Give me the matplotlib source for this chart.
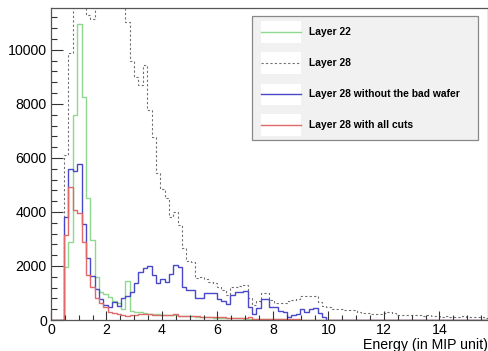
import numpy as np
import matplotlib
matplotlib.use("Agg")
import matplotlib.pyplot as plt
from matplotlib.patches import Rectangle
from matplotlib.ticker import MultipleLocator

plt.rcParams["font.family"] = ["Liberation Sans", "DejaVu Sans"]

# histogram binning: 100 bins between 0 and 15.75 MIP
x_min, x_max, n_bins = 0.0, 15.75, 100
edges = np.linspace(x_min, x_max, n_bins + 1)

# bin contents
layer22 = [
    0, 0, 0, 1950, 2900, 7600, 10950, 8250, 4500, 2960,
    1600, 1050, 950, 850, 720, 620, 420, 1430, 350, 300,
    280, 260, 240, 230, 220, 200, 190, 180, 170, 160,
    150, 140, 130, 120, 110, 100, 95, 90, 85, 80,
    75, 70, 65, 60, 55, 50, 45, 40, 35, 30,
    28, 25, 22, 20, 18, 15, 12, 10, 8, 6,
    5, 4, 3, 2, 1, 0, 0, 0, 0, 0,
    0, 0, 0, 0, 0, 0, 0, 0, 0, 0,
    0, 0, 0, 0, 0, 0, 0, 0, 0, 0,
    0, 0, 0, 0, 0, 0, 0, 0, 0, 0,
]
layer28 = [
    0, 0, 0, 6110, 9900, 12600, 14500, 13800, 11300, 11150,
    12200, 13500, 14000, 13600, 13000, 12500, 12000, 11050, 9570, 9010,
    8700, 9440, 7780, 6790, 5430, 4840, 4510, 3830, 4010, 3520,
    2650, 2200, 2150, 1540, 1600, 1500, 1420, 1360, 1230, 1110,
    925, 1210, 1210, 1250, 1300, 800, 560, 700, 990, 990,
    740, 640, 620, 620, 700, 740, 760, 880, 900, 880,
    900, 680, 500, 490, 420, 400, 390, 370, 380, 360,
    290, 270, 260, 220, 220, 230, 260, 280, 250, 200,
    180, 190, 170, 180, 170, 160, 180, 140, 130, 120,
    140, 110, 120, 100, 130, 120, 110, 100, 110, 90,
]
layer28_good = [
    0, 0, 0, 3800, 5600, 5530, 5760, 3570, 2290, 1620,
    1130, 760, 540, 490, 680, 520, 800, 880, 1020, 1360,
    1790, 1910, 2000, 1670, 1380, 1520, 1400, 1700, 2050, 1950,
    1230, 1100, 1100, 800, 800, 1000, 1000, 1000, 780, 720,
    600, 930, 1020, 1020, 1080, 490, 220, 430, 760, 780,
    480, 480, 330, 300, 120, 200, 220, 420, 300, 420,
    440, 250, 110, 0, 0, 0, 0, 0, 0, 0,
    0, 0, 0, 0, 0, 0, 0, 0, 0, 0,
    0, 0, 0, 0, 0, 0, 0, 0, 0, 0,
    0, 0, 0, 0, 0, 0, 0, 0, 0, 0,
]
layer28_cuts = [
    0, 0, 0, 3150, 4940, 4070, 3970, 2900, 1670, 1230,
    800, 620, 490, 310, 260, 220, 180, 160, 170, 190,
    220, 210, 220, 200, 190, 190, 200, 170, 210, 160,
    150, 140, 130, 130, 120, 120, 110, 110, 100, 100,
    90, 90, 85, 80, 80, 120, 50, 45, 40, 40,
    35, 30, 30, 25, 25, 20, 20, 15, 15, 10,
    10, 8, 5, 5, 0, 0, 0, 0, 0, 0,
    0, 0, 0, 0, 0, 0, 0, 0, 0, 0,
    0, 0, 0, 0, 0, 0, 0, 0, 0, 0,
    0, 0, 0, 0, 0, 0, 0, 0, 0, 0,
]

series = [
    ("Layer 22", layer22, "#8fd88f", "-", 1.0),
    ("Layer 28", layer28, "#707070", (0, (2.0, 2.0)), 0.8),
    ("Layer 28 without the bad wafer", layer28_good, "#4848c8", "-", 1.0),
    ("Layer 28 with all cuts", layer28_cuts, "#e06868", "-", 1.0),
]

fig = plt.figure(figsize=(4.89, 3.51), dpi=100)
ax = fig.add_axes([51 / 489, 31 / 351, 437 / 489, 312 / 351])

for label, counts, color, ls, lw in series:
    ax.stairs(counts, edges, color=color, linestyle=ls, linewidth=lw)

ax.set_xlim(x_min, x_max)
ax.set_ylim(0, 11550)

# ROOT-like ticks: inside, only on left and bottom
ax.xaxis.set_major_locator(MultipleLocator(2))
ax.xaxis.set_minor_locator(MultipleLocator(0.5))
ax.yaxis.set_major_locator(MultipleLocator(2000))
ax.yaxis.set_minor_locator(MultipleLocator(400))
ax.tick_params(axis="x", which="major", direction="in", length=6.5, width=0.8,
               labelsize=10.2, pad=2, color="#333333")
ax.tick_params(axis="x", which="minor", direction="in", length=3.3, width=0.8,
               color="#333333")
ax.tick_params(axis="y", which="major", direction="in", length=8.8, width=0.8,
               labelsize=10.2, pad=3, color="#333333")
ax.tick_params(axis="y", which="minor", direction="in", length=4.4, width=0.8,
               color="#333333")
for s in ax.spines.values():
    s.set_color("#555555")
    s.set_linewidth(0.9)

ax.text(1.0, -0.079, "Energy (in MIP unit)", transform=ax.transAxes,
        ha="right", va="center", fontsize=10.2)

# legend box drawn by hand (ROOT TLegend look)
ax.add_patch(Rectangle((0.46, 0.577), 0.517, 0.397, transform=ax.transAxes,
                       facecolor="#f1f1f1", edgecolor="#888888", linewidth=0.9,
                       zorder=5))
row_y = [0.923, 0.824, 0.724, 0.625]
for (label, counts, color, ls, lw), y in zip(series, row_y):
    ax.add_patch(Rectangle((0.481, y - 0.034), 0.09, 0.068,
                           transform=ax.transAxes, facecolor="white",
                           edgecolor="none", zorder=6))
    ax.plot([0.481, 0.571], [y, y], transform=ax.transAxes, color=color,
            linestyle=ls, linewidth=lw, zorder=7)
    ax.text(0.590, y, label, transform=ax.transAxes, ha="left", va="center",
            fontsize=7.4, fontweight="bold", zorder=7)

fig.savefig("out.png", dpi=100)
